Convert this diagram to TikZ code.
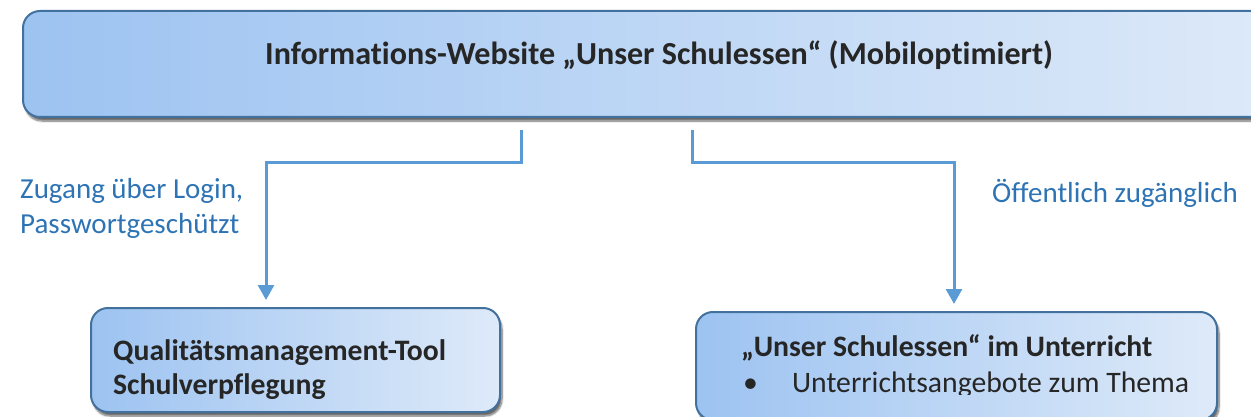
\documentclass[tikz,border=0pt]{standalone}
\usepackage{fontspec}
\setmainfont{Carlito}[Ligatures=NoCommon]
\usetikzlibrary{positioning,shadows.blur,arrows.meta}
\definecolor{boxleft}{HTML}{9DC3F1}
\definecolor{boxright}{HTML}{DEEAF9}
\definecolor{boxline}{HTML}{41719C}
\definecolor{linkblue}{HTML}{5B9BD5}
\definecolor{labelblue}{HTML}{2E74B5}
\definecolor{textdark}{HTML}{262626}
\tikzset{
block/.style={draw=boxline, line width=2pt, rounded corners=17pt, left color=boxleft, right color=boxright,
  blur shadow={shadow xshift=2pt, shadow yshift=-4pt, shadow blur steps=8, shadow opacity=60}}, % rounded boxes
link/.style={draw=linkblue, line width=3pt, -{Triangle[width=16pt,length=15pt]}, shorten >=7pt}, % connectors
label/.style={text=labelblue, font=\fontsize{29}{35}\selectfont, align=left, inner sep=0pt},
boxtext/.style={text=textdark, font=\fontsize{29.7}{34}\selectfont\bfseries, align=left, inner sep=0pt},
}

\begin{document}
\begin{tikzpicture}[x=1pt,y=-1pt]
        \useasboundingbox (0,0) rectangle (1251,417);
        % boxes
        \node[block, minimum width=1270pt, minimum height=106pt] (web) at (658,64) {};
        \node[block, minimum width=409pt, minimum height=104pt] (qm) at (295.5,360) {};
        \node[block, minimum width=521pt, minimum height=108pt] (unt) at (956.5,366) {};
        % texts
        \node[boxtext, font=\fontsize{32.1}{36}\selectfont\bfseries, anchor=base west] (title) at (265,65)
            {Informations-Website „Unser Schulessen“ (Mobiloptimiert)};
        \node[boxtext, anchor=north west] (qmtext) at (113,339) {Qualitätsmanagement-Tool\\Schulverpflegung};
        \begin{scope}
        \clip (690,300) rectangle (1230,394);
        \node[boxtext, font=\fontsize{29.7}{36}\selectfont\bfseries, anchor=north west] (unttext) at (741,334)
            {„Unser Schulessen“ im Unterricht\\
             \mdseries\makebox[51pt][l]{\hspace{2pt}•}Unterrichtsangebote zum Thema};
        \end{scope}
        \node[label, anchor=north west] (login) at (20,178.5) {Zugang über Login,\\Passwortgeschützt};
        \node[label, anchor=base west] (public) at (992,203) {Öffentlich zugänglich};
        % connectors
        \coordinate (splitL) at (521,130);
        \coordinate (splitR) at (692,130);
        \draw[link] (splitL) -- ++(0,33) -| ([xshift=-29.5pt]qm.north);
        \draw[link] (splitR) -- ++(0,33) -| ([xshift=-2.5pt]unt.north);
\end{tikzpicture}
\end{document}
